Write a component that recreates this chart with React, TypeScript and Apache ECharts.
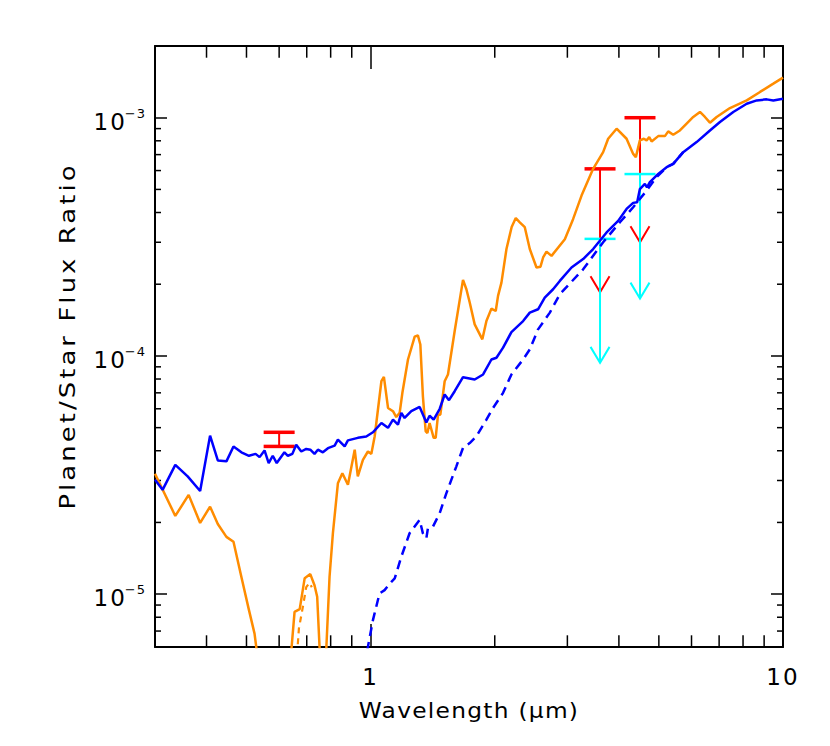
import React, { useEffect, useRef } from 'react';
import * as echarts from 'echarts';

const FONT = '"DejaVu Sans", sans-serif';

// [wavelength (micron), planet/star flux ratio]
const blueModel: [number, number][] = [
  [0.3, 3.02e-5], [0.313, 2.74e-5], [0.336, 3.49e-5], [0.36, 3.12e-5], [0.386, 2.71e-5], [0.408, 4.63e-5],
  [0.426, 3.64e-5], [0.447, 3.61e-5], [0.465, 4.17e-5], [0.486, 3.94e-5], [0.507, 3.81e-5], [0.526, 3.88e-5],
  [0.538, 3.76e-5], [0.553, 4.01e-5], [0.566, 3.55e-5], [0.579, 3.81e-5], [0.592, 3.55e-5], [0.618, 3.94e-5],
  [0.63, 3.81e-5], [0.646, 3.88e-5], [0.66, 4.24e-5], [0.679, 3.97e-5], [0.698, 4.07e-5], [0.714, 4.04e-5],
  [0.731, 3.88e-5], [0.745, 4.04e-5], [0.766, 3.94e-5], [0.788, 4.1e-5], [0.818, 4.2e-5], [0.833, 4.45e-5],
  [0.865, 4.17e-5], [0.881, 4.42e-5], [0.931, 4.53e-5], [0.976, 4.59e-5], [1.013, 4.78e-5], [1.062, 5.23e-5],
  [1.102, 4.99e-5], [1.133, 5.4e-5], [1.165, 5.15e-5], [1.187, 5.77e-5], [1.209, 5.49e-5], [1.255, 5.86e-5],
  [1.315, 6.11e-5], [1.365, 5.26e-5], [1.39, 5.61e-5], [1.422, 5.4e-5], [1.471, 6.0e-5], [1.512, 6.89e-5],
  [1.549, 6.52e-5], [1.599, 7.11e-5], [1.675, 8.14e-5], [1.788, 7.96e-5], [1.874, 8.36e-5], [1.963, 9.66e-5],
  [2.019, 9.83e-5], [2.095, 1.083e-4], [2.195, 1.259e-4], [2.343, 1.401e-4], [2.432, 1.52e-4], [2.547, 1.57e-4],
  [2.644, 1.758e-4], [2.77, 1.905e-4], [2.876, 2.065e-4], [3.07, 2.35e-4], [3.276, 2.55e-4], [3.464, 2.81e-4],
  [3.734, 3.3e-4], [3.983, 3.69e-4], [4.175, 4.14e-4], [4.332, 4.39e-4], [4.43, 4.42e-4], [4.497, 5.02e-4],
  [4.624, 5.27e-4], [4.68, 5.1e-4], [4.755, 5.36e-4], [4.982, 5.81e-4], [5.222, 6.2e-4], [5.417, 6.4e-4],
  [5.728, 7.17e-4], [6.173, 7.9e-4], [6.65, 8.84e-4], [7.033, 9.59e-4], [7.576, 1.057e-3], [8.166, 1.145e-3],
  [8.636, 1.182e-3], [9.13, 1.194e-3], [9.474, 1.182e-3], [10, 1.202e-3],
];

const blueDashed: [number, number][] = [
  [0.951, 4.35e-6], [1.013, 7.78e-6], [1.051, 1.007e-5], [1.081, 1.04e-5], [1.123, 1.127e-5], [1.144, 1.164e-5],
  [1.187, 1.436e-5], [1.243, 1.802e-5], [1.315, 2.05e-5], [1.339, 1.8e-5], [1.365, 1.717e-5], [1.377, 1.89e-5],
  [1.416, 1.92e-5], [1.471, 2.19e-5], [1.526, 2.65e-5], [1.614, 3.44e-5], [1.675, 4.11e-5], [1.739, 4.31e-5],
  [1.805, 4.6e-5], [1.909, 5.4e-5], [1.981, 6.05e-5], [2.095, 7.0e-5], [2.195, 8.36e-5], [2.343, 9.66e-5],
  [2.432, 1.065e-4], [2.547, 1.293e-4], [2.72, 1.52e-4], [2.876, 1.815e-4], [3.276, 2.31e-4], [3.663, 3.0e-4],
  [4.022, 3.64e-4], [4.332, 4.21e-4], [4.669, 4.94e-4], [4.936, 5.63e-4], [5.222, 6.2e-4], [5.417, 6.4e-4],
  [5.728, 7.17e-4],
];

const orangeModel: [number, number][] = [
  [0.3, 3.2e-5], [0.336, 2.13e-5], [0.362, 2.61e-5], [0.386, 1.99e-5], [0.408, 2.33e-5], [0.426, 1.97e-5],
  [0.447, 1.74e-5], [0.465, 1.66e-5], [0.486, 1.18e-5], [0.507, 8.57e-6], [0.523, 6.83e-6], [0.532, 5.43e-6],
  [0.58, 1e-6], [0.64, 5.4e-6], [0.654, 8.42e-6], [0.673, 8.65e-6], [0.692, 1.167e-5], [0.714, 1.214e-5],
  [0.731, 1.09e-5], [0.742, 9.75e-6], [0.754, 5.4e-6], [0.767, 1.5e-6], [0.779, 5.4e-6], [0.795, 1.18e-5],
  [0.81, 1.8e-5], [0.833, 2.92e-5], [0.854, 3.22e-5], [0.881, 2.88e-5], [0.915, 4.04e-5], [0.931, 3.12e-5],
  [0.958, 3.66e-5], [0.985, 3.97e-5], [1.004, 3.88e-5], [1.023, 4.6e-5], [1.062, 7.83e-5], [1.077, 8.17e-5],
  [1.102, 6.05e-5], [1.133, 5.86e-5], [1.154, 5.54e-5], [1.176, 5.77e-5], [1.194, 7.0e-5], [1.232, 9.66e-5],
  [1.279, 1.205e-4], [1.302, 1.22e-4], [1.32, 1.117e-4], [1.339, 6.77e-5], [1.36, 4.82e-5], [1.373, 4.75e-5],
  [1.39, 5.23e-5], [1.422, 4.53e-5], [1.438, 4.53e-5], [1.457, 5.67e-5], [1.476, 5.67e-5], [1.512, 7.83e-5],
  [1.54, 8.36e-5], [1.599, 1.272e-4], [1.675, 2.085e-4], [1.707, 1.905e-4], [1.739, 1.675e-4], [1.788, 1.357e-4],
  [1.866, 1.174e-4], [1.909, 1.401e-4], [1.963, 1.58e-4], [2.011, 1.544e-4], [2.037, 1.786e-4], [2.076, 2.03e-4],
  [2.135, 2.81e-4], [2.198, 3.48e-4], [2.249, 3.79e-4], [2.3, 3.64e-4], [2.365, 3.47e-4], [2.432, 2.81e-4],
  [2.525, 2.35e-4], [2.582, 2.37e-4], [2.62, 2.59e-4], [2.67, 2.74e-4], [2.746, 2.63e-4], [2.958, 3.09e-4],
  [3.097, 3.75e-4], [3.247, 4.71e-4], [3.464, 6.1e-4], [3.663, 7.17e-4], [3.767, 8.16e-4], [3.949, 8.99e-4],
  [4.175, 8.16e-4], [4.332, 7.05e-4], [4.397, 6.83e-4], [4.497, 8.03e-4], [4.598, 8.16e-4], [4.669, 8.03e-4],
  [4.738, 8.29e-4], [4.801, 7.95e-4], [4.982, 8.37e-4], [5.172, 8.37e-4], [5.268, 8.76e-4], [5.417, 8.48e-4],
  [5.623, 8.84e-4], [5.838, 9.44e-4], [6.058, 1.007e-3], [6.289, 1.057e-3], [6.467, 1.007e-3], [6.65, 9.53e-4],
  [6.904, 1.007e-3], [7.436, 1.098e-3], [8.166, 1.182e-3], [8.796, 1.283e-3], [9.474, 1.39e-3], [10, 1.474e-3],
];

const orangeDashed: [number, number][] = [
  [0.663, 5.54e-6], [0.67, 7.17e-6], [0.685, 8.85e-6], [0.698, 1.07e-5], [0.711, 1.116e-5], [0.72, 1.07e-5],
];

// [wavelength, top, bottom, kind] kind 0 = error bar, 1 = upper limit arrow
const redPoints: [number, number, number, number][] = [
  [0.6, 4.78e-5, 4.17e-5, 0],
  [3.6, 6.1e-4, 1.85e-4, 1],
  [4.5, 1.0e-3, 3.0e-4, 1],
];
const cyanPoints: [number, number, number, number][] = [
  [3.6, 3.1e-4, 9.35e-5, 1],
  [4.5, 5.8e-4, 1.74e-4, 1],
];

const xMinorTicks = [0.4, 0.5, 0.6, 0.7, 0.8, 0.9, 2, 3, 4, 5, 6, 7, 8, 9];
const yMinorTicks = [
  7e-6, 8e-6, 9e-6,
  2e-5, 3e-5, 4e-5, 5e-5, 6e-5, 7e-5, 8e-5, 9e-5,
  2e-4, 3e-4, 4e-4, 5e-4, 6e-4, 7e-4, 8e-4, 9e-4,
];

const X_MIN = 0.3;
const X_MAX = 10;
const Y_MIN = 6e-6;
const Y_MAX = 2e-3;

const isPow10 = (v: number) => {
  const e = Math.round(Math.log10(v));
  return Math.abs(v / Math.pow(10, e) - 1) < 1e-6 ? e : null;
};

const errRender = (color: string, capWidth: number, stemWidth: number) => (params: any, api: any) => {
  const x = api.value(0);
  const hi = api.value(1);
  const lo = api.value(2);
  const kind = api.value(3);
  const a = api.coord([x, hi]);
  const b = api.coord([x, lo]);
  const half = 15.5;
  const children: any[] = [
    { type: 'line', shape: { x1: a[0], y1: a[1], x2: b[0], y2: b[1] }, style: { stroke: color, lineWidth: stemWidth } },
    { type: 'line', shape: { x1: a[0] - half, y1: a[1], x2: a[0] + half, y2: a[1] }, style: { stroke: color, lineWidth: capWidth } },
  ];
  if (kind === 0) {
    children.push({ type: 'line', shape: { x1: b[0] - half, y1: b[1], x2: b[0] + half, y2: b[1] }, style: { stroke: color, lineWidth: capWidth } });
  } else {
    children.push({
      type: 'polyline',
      shape: { points: [[b[0] - 9.5, b[1] - 16], [b[0], b[1]], [b[0] + 9.5, b[1] - 16]] },
      style: { stroke: color, lineWidth: stemWidth, fill: 'none' },
    });
  }
  return { type: 'group', children };
};

export default function App() {
  const ref = useRef<HTMLDivElement>(null);

  useEffect(() => {
    document.body.style.margin = '0';
    if (!ref.current) return;
    const chart = echarts.init(ref.current, undefined, { renderer: 'svg' });

    const tickLine = { color: '#000', width: 1.5 };
    const axisLine = { show: true, onZero: false, lineStyle: { color: '#000', width: 2 } };

    const xBase = {
      type: 'log' as const,
      logBase: 10,
      min: X_MIN,
      max: X_MAX,
      axisLine,
      axisTick: { show: true, inside: true, length: 23, lineStyle: tickLine },
      splitLine: { show: false },
      minorTick: { show: false },
    };
    const yBase = {
      type: 'log' as const,
      logBase: 10,
      min: Y_MIN,
      max: Y_MAX,
      axisLine,
      axisTick: { show: true, inside: true, length: 12, lineStyle: tickLine },
      splitLine: { show: false },
      minorTick: { show: false },
    };

    const option: any = {
      animation: false,
      backgroundColor: '#fff',
      grid: { left: 155, top: 46, right: 47, bottom: 99, containLabel: false },
      xAxis: [
        {
          ...xBase,
          position: 'bottom',
          axisLabel: {
            show: true,
            showMinLabel: false,
            showMaxLabel: true,
            margin: 18,
            fontSize: 23,
            fontFamily: FONT,
            color: '#000',
            formatter: (v: number) => {
              const e = isPow10(v);
              return e === null ? '' : String(Math.round(Math.pow(10, e)));
            },
          },
        },
        { ...xBase, position: 'top', axisLabel: { show: false } },
      ],
      yAxis: [
        {
          ...yBase,
          position: 'left',
          axisLabel: {
            show: true,
            showMinLabel: false,
            showMaxLabel: false,
            margin: 9,
            padding: [8, 0, 0, 0],
            formatter: (v: number) => {
              const e = isPow10(v);
              return e === null ? '' : `{b|10}{s|\u2212${-e}}`;
            },
            rich: {
              b: { fontSize: 23, fontFamily: FONT, color: '#000', lineHeight: 30 },
              s: { fontSize: 13, fontFamily: FONT, color: '#000', lineHeight: 12, verticalAlign: 'top' },
            },
          },
        },
        { ...yBase, position: 'right', axisLabel: { show: false } },
      ],
      graphic: [
        {
          type: 'text',
          x: 469,
          y: 710,
          scaleX: 1.06,
          style: { text: 'Wavelength (\u03bcm)', font: `22px ${FONT}`, fill: '#000', textAlign: 'center', textVerticalAlign: 'middle' },
          silent: true,
        },
        {
          type: 'text',
          x: 67.5,
          y: 336,
          rotation: Math.PI / 2,
          scaleX: 1.2,
          style: { text: 'Planet/Star Flux Ratio', font: `21.5px ${FONT}`, fill: '#000', textAlign: 'center', textVerticalAlign: 'middle' },
          silent: true,
        },
      ],
      series: [
        {
          type: 'custom',
          silent: true,
          data: xMinorTicks.map((v) => [v, 1e-4]),
          encode: { x: 0, y: 1 },
          renderItem: (params: any, api: any) => {
            const cs = params.coordSys;
            const x = api.coord([api.value(0), 1e-4])[0];
            const top = cs.y;
            const bottom = cs.y + cs.height;
            return {
              type: 'group',
              children: [
                { type: 'line', shape: { x1: x, y1: bottom, x2: x, y2: bottom - 11.7 }, style: { stroke: '#000', lineWidth: 1.5 } },
                { type: 'line', shape: { x1: x, y1: top, x2: x, y2: top + 11.7 }, style: { stroke: '#000', lineWidth: 1.5 } },
              ],
            };
          },
        },
        {
          type: 'custom',
          silent: true,
          data: yMinorTicks.map((v) => [1, v]),
          encode: { x: 0, y: 1 },
          renderItem: (params: any, api: any) => {
            const cs = params.coordSys;
            const y = api.coord([1, api.value(1)])[1];
            const left = cs.x;
            const right = cs.x + cs.width;
            return {
              type: 'group',
              children: [
                { type: 'line', shape: { x1: left, y1: y, x2: left + 6, y2: y }, style: { stroke: '#000', lineWidth: 1.5 } },
                { type: 'line', shape: { x1: right, y1: y, x2: right - 6, y2: y }, style: { stroke: '#000', lineWidth: 1.5 } },
              ],
            };
          },
        },
        {
          type: 'line',
          data: orangeDashed,
          symbol: 'none',
          silent: true,
          lineStyle: { color: '#ff8c00', width: 2.2, type: [6, 5] },
        },
        {
          type: 'line',
          data: orangeModel,
          symbol: 'none',
          silent: true,
          lineStyle: { color: '#ff8c00', width: 2.5 },
        },
        {
          type: 'line',
          data: blueDashed,
          symbol: 'none',
          silent: true,
          lineStyle: { color: '#0000ff', width: 2.5, type: [9, 6] },
        },
        {
          type: 'line',
          data: blueModel,
          symbol: 'none',
          silent: true,
          lineStyle: { color: '#0000ff', width: 2.5 },
        },
        {
          type: 'custom',
          silent: true,
          data: redPoints,
          encode: { x: 0, y: [1, 2] },
          renderItem: errRender('#ff0000', 3.5, 2),
        },
        {
          type: 'custom',
          silent: true,
          data: cyanPoints,
          encode: { x: 0, y: [1, 2] },
          renderItem: errRender('#00ffff', 2.5, 2),
        },
      ],
    };

    chart.setOption(option);
    return () => chart.dispose();
  }, []);

  return (
    <div>
      <style>{`
        #chartbox text[style*="23px"] { letter-spacing: 2px; }
        #chartbox text[style*="13px"] { letter-spacing: 1px; }
        #chartbox text[style*="22px"] { letter-spacing: 1.2px; }
        #chartbox text[style*="21.5px"] { letter-spacing: 2.6px; }
      `}</style>
      <div
        id="chartbox"
        ref={ref}
        style={{ position: 'absolute', left: 0, top: 0, width: 830, height: 746, background: '#fff' }}
      />
    </div>
  );
}
